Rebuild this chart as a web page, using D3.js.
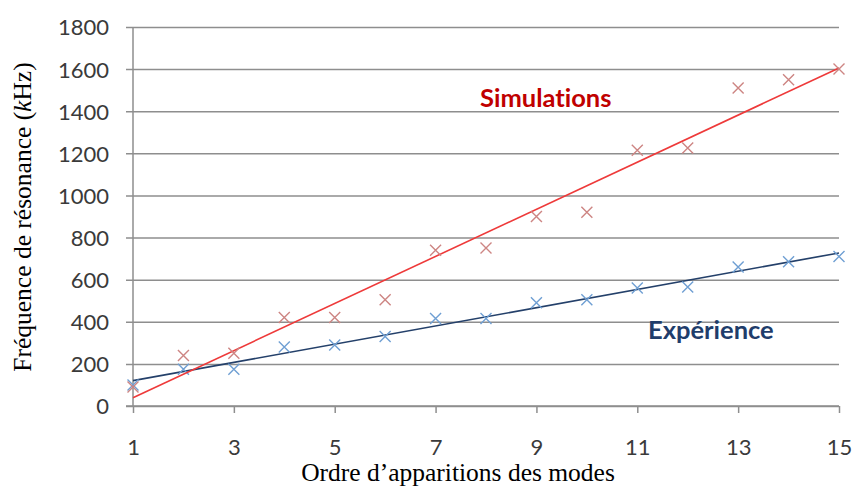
<!DOCTYPE html>
<html>
<head>
<meta charset="utf-8">
<script src="https://cdn.jsdelivr.net/npm/d3@7"></script>
<style>
  html, body { margin: 0; padding: 0; background: #fff; }
  svg { display: block; }
  text { font-variant-ligatures: none; }
</style>
</head>
<body>
<svg id="chart" width="858" height="494"></svg>
<script>
// Mode order (x) and resonance frequencies in kHz
const modes = [1, 2, 3, 4, 5, 6, 7, 8, 9, 10, 11, 12, 13, 14, 15];
const simulations = [90, 240, 250, 420, 420, 505, 740, 750, 900, 920, 1215, 1225, 1510, 1550, 1600];
const experience = [100, 175, 175, 280, 290, 330, 415, 415, 490, 505, 560, 565, 660, 685, 710];
const xTicks = [1, 3, 5, 7, 9, 11, 13, 15];
const yTicks = [0, 200, 400, 600, 800, 1000, 1200, 1400, 1600, 1800];

const svg = d3.select("#chart");
const plotLeft = 133, plotRight = 839, plotTop = 27, plotBottom = 406;

const x = d3.scaleLinear().domain([1, 15]).range([plotLeft, plotRight]);
const y = d3.scaleLinear().domain([0, 1800]).range([plotBottom, plotTop]);

const gridColor = "#8e8e8e";
const labelFont = "Lato, 'Open Sans', sans-serif";
const serifFont = "'Liberation Serif', 'Times New Roman', serif";

// Horizontal gridlines with left tick stubs
const yAxis = d3.axisLeft(y).tickValues(yTicks).tickFormat(d3.format("d")).tickSize(-(plotRight - plotLeft));
const gy = svg.append("g").attr("transform", `translate(${plotLeft},0)`).call(yAxis);
gy.select(".domain").remove();
gy.selectAll(".tick line")
  .attr("x1", -7)
  .attr("stroke", gridColor)
  .attr("stroke-width", 1.5);
gy.selectAll(".tick text")
  .attr("font-family", labelFont)
  .attr("font-size", 22)
  .attr("fill", "#3a3a3a")
  .attr("x", -24)
  .attr("dy", "0.36em");

// Vertical axis line
svg.append("line")
  .attr("x1", plotLeft).attr("x2", plotLeft)
  .attr("y1", plotTop).attr("y2", plotBottom)
  .attr("stroke", gridColor).attr("stroke-width", 1.5);

// Bottom axis
const xAxis = d3.axisBottom(x).tickValues(xTicks).tickFormat(d3.format("d")).tickSize(7).tickPadding(26);
const gx = svg.append("g").attr("transform", `translate(0,${plotBottom})`).call(xAxis);
gx.select(".domain").attr("d", `M${plotLeft - 7},0H${plotRight}`).attr("stroke", gridColor).attr("stroke-width", 1.5);
gx.selectAll(".tick line").attr("stroke", gridColor).attr("stroke-width", 1.5);
gx.selectAll(".tick text")
  .attr("font-family", labelFont)
  .attr("font-size", 22)
  .attr("fill", "#3a3a3a");

// Least-squares trend line for a series
function fit(xs, ys) {
  const n = xs.length;
  const mx = d3.mean(xs), my = d3.mean(ys);
  let sxy = 0, sxx = 0;
  for (let i = 0; i < n; i++) {
    sxy += (xs[i] - mx) * (ys[i] - my);
    sxx += (xs[i] - mx) * (xs[i] - mx);
  }
  const slope = sxy / sxx;
  return v => my + slope * (v - mx);
}

function drawSeries(values, markerColor, lineColor) {
  const f = fit(modes, values);
  const ends = [modes[0], modes[modes.length - 1]];
  svg.append("line")
    .attr("x1", x(ends[0])).attr("y1", y(f(ends[0])))
    .attr("x2", x(ends[1])).attr("y2", y(f(ends[1])))
    .attr("stroke", lineColor).attr("stroke-width", 1.6);

  const s = 5.5;
  svg.append("g").selectAll("path")
    .data(modes.map((m, i) => [m, values[i]]))
    .join("path")
    .attr("transform", d => `translate(${x(d[0])},${y(d[1])})`)
    .attr("d", `M${-s},${-s}L${s},${s}M${-s},${s}L${s},${-s}`)
    .attr("stroke", markerColor)
    .attr("stroke-width", 1.4)
    .attr("fill", "none");
}

drawSeries(experience, "#6f9fd3", "#24406a");
drawSeries(simulations, "#cd8583", "#ee3a3a");

// Series labels
svg.append("text")
  .attr("x", 480).attr("y", 107)
  .attr("font-family", labelFont).attr("font-weight", "bold")
  .attr("font-size", 25.5).attr("fill", "#c00000")
  .text("Simulations");

svg.append("text")
  .attr("x", 648).attr("y", 339)
  .attr("font-family", labelFont).attr("font-weight", "bold")
  .attr("font-size", 25.5).attr("fill", "#1f3d6b")
  .text("Expérience");

// Axis titles
svg.append("text")
  .attr("x", 458).attr("y", 481)
  .attr("text-anchor", "middle")
  .attr("font-family", serifFont)
  .attr("font-size", 25.5).attr("fill", "#000")
  .text("Ordre d’apparitions des modes");

const yt = svg.append("text")
  .attr("transform", "translate(31,217) rotate(-90)")
  .attr("text-anchor", "middle")
  .attr("font-family", serifFont)
  .attr("font-size", 25.5).attr("fill", "#000");
yt.append("tspan").text("Fréquence de résonance (");
yt.append("tspan").attr("font-style", "italic").text("k");
yt.append("tspan").text("Hz)");
</script>
</body>
</html>
